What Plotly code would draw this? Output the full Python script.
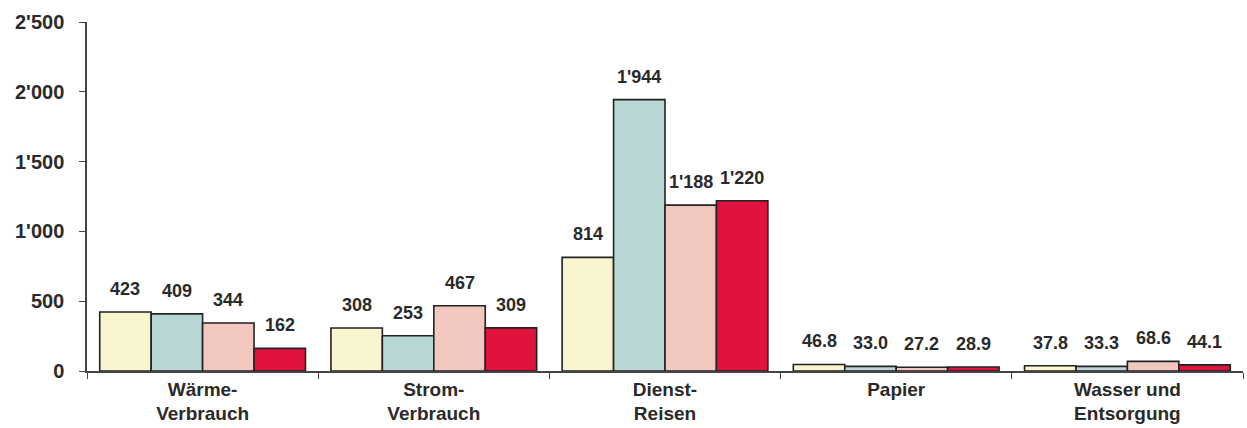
import plotly.graph_objects as go

categories = ["Wärme-<br>Verbrauch", "Strom-<br>Verbrauch", "Dienst-<br>Reisen", "Papier", "Wasser und<br>Entsorgung"]
series_names = ["Serie 1", "Serie 2", "Serie 3", "Serie 4"]
values_1 = [423, 308, 814, 46.8, 37.8]
values_2 = [409, 253, 1944, 33.0, 33.3]
values_3 = [344, 467, 1188, 27.2, 68.6]
values_4 = [162, 309, 1220, 28.9, 44.1]
labels_1 = ["423", "308", "814", "46.8", "37.8"]
labels_2 = ["409", "253", "1'944", "33.0", "33.3"]
labels_3 = ["344", "467", "1'188", "27.2", "68.6"]
labels_4 = ["162", "309", "1'220", "28.9", "44.1"]
tick_vals = [0, 500, 1000, 1500, 2000, 2500]
tick_text = ["0", "500", "1'000", "1'500", "2'000", "2'500"]

colors = ["#F9F5CE", "#B7D6D4", "#F1C7C0", "#E0123E"]
all_values = [values_1, values_2, values_3, values_4]
all_labels = [labels_1, labels_2, labels_3, labels_4]

FONT = "Liberation Sans, Arial, sans-serif"
TXT = "#2a2a2a"
bargap = 0.11

fig = go.Figure()
for name, vals, col in zip(series_names, all_values, colors):
    fig.add_trace(go.Bar(
        x=categories, y=vals, name=name,
        marker=dict(color=col, line=dict(color="#222222", width=1.6)),
    ))

n = len(all_values)
w = (1 - bargap) / n
annotations = []
for j, (vals, labs) in enumerate(zip(all_values, all_labels)):
    for i, (v, t) in enumerate(zip(vals, labs)):
        annotations.append(dict(
            x=i + (j - (n - 1) / 2) * w, y=v, xref="x", yref="y",
            text=t, showarrow=False, yanchor="middle", yshift=23,
            font=dict(family=FONT, size=18, color=TXT, weight="bold"),
        ))

fig.update_layout(
    barmode="group", bargap=bargap, bargroupgap=0,
    showlegend=False,
    paper_bgcolor="white", plot_bgcolor="white",
    width=1247, height=428,
    margin=dict(l=87, r=4, t=22, b=55),
    annotations=annotations,
    font=dict(family=FONT, color=TXT),
)
fig.update_yaxes(
    range=[0, 2500], tickvals=tick_vals, ticktext=tick_text,
    showgrid=False, zeroline=False,
    showline=True, linecolor="#444444", linewidth=1.5,
    ticks="outside", ticklen=6, tickcolor="#444444",
    ticklabelstandoff=11,
    tickfont=dict(family=FONT, size=20, color=TXT, weight="bold"),
)
fig.update_xaxes(
    type="category", range=[-0.5, 4.5],
    tickson="boundaries", ticks="outside", ticklen=6, tickcolor="#444444",
    showline=True, linecolor="#444444", linewidth=1.5,
    showgrid=False,
    tickfont=dict(family=FONT, size=19, color=TXT, weight="bold"),
)

fig.write_html("out.html")
